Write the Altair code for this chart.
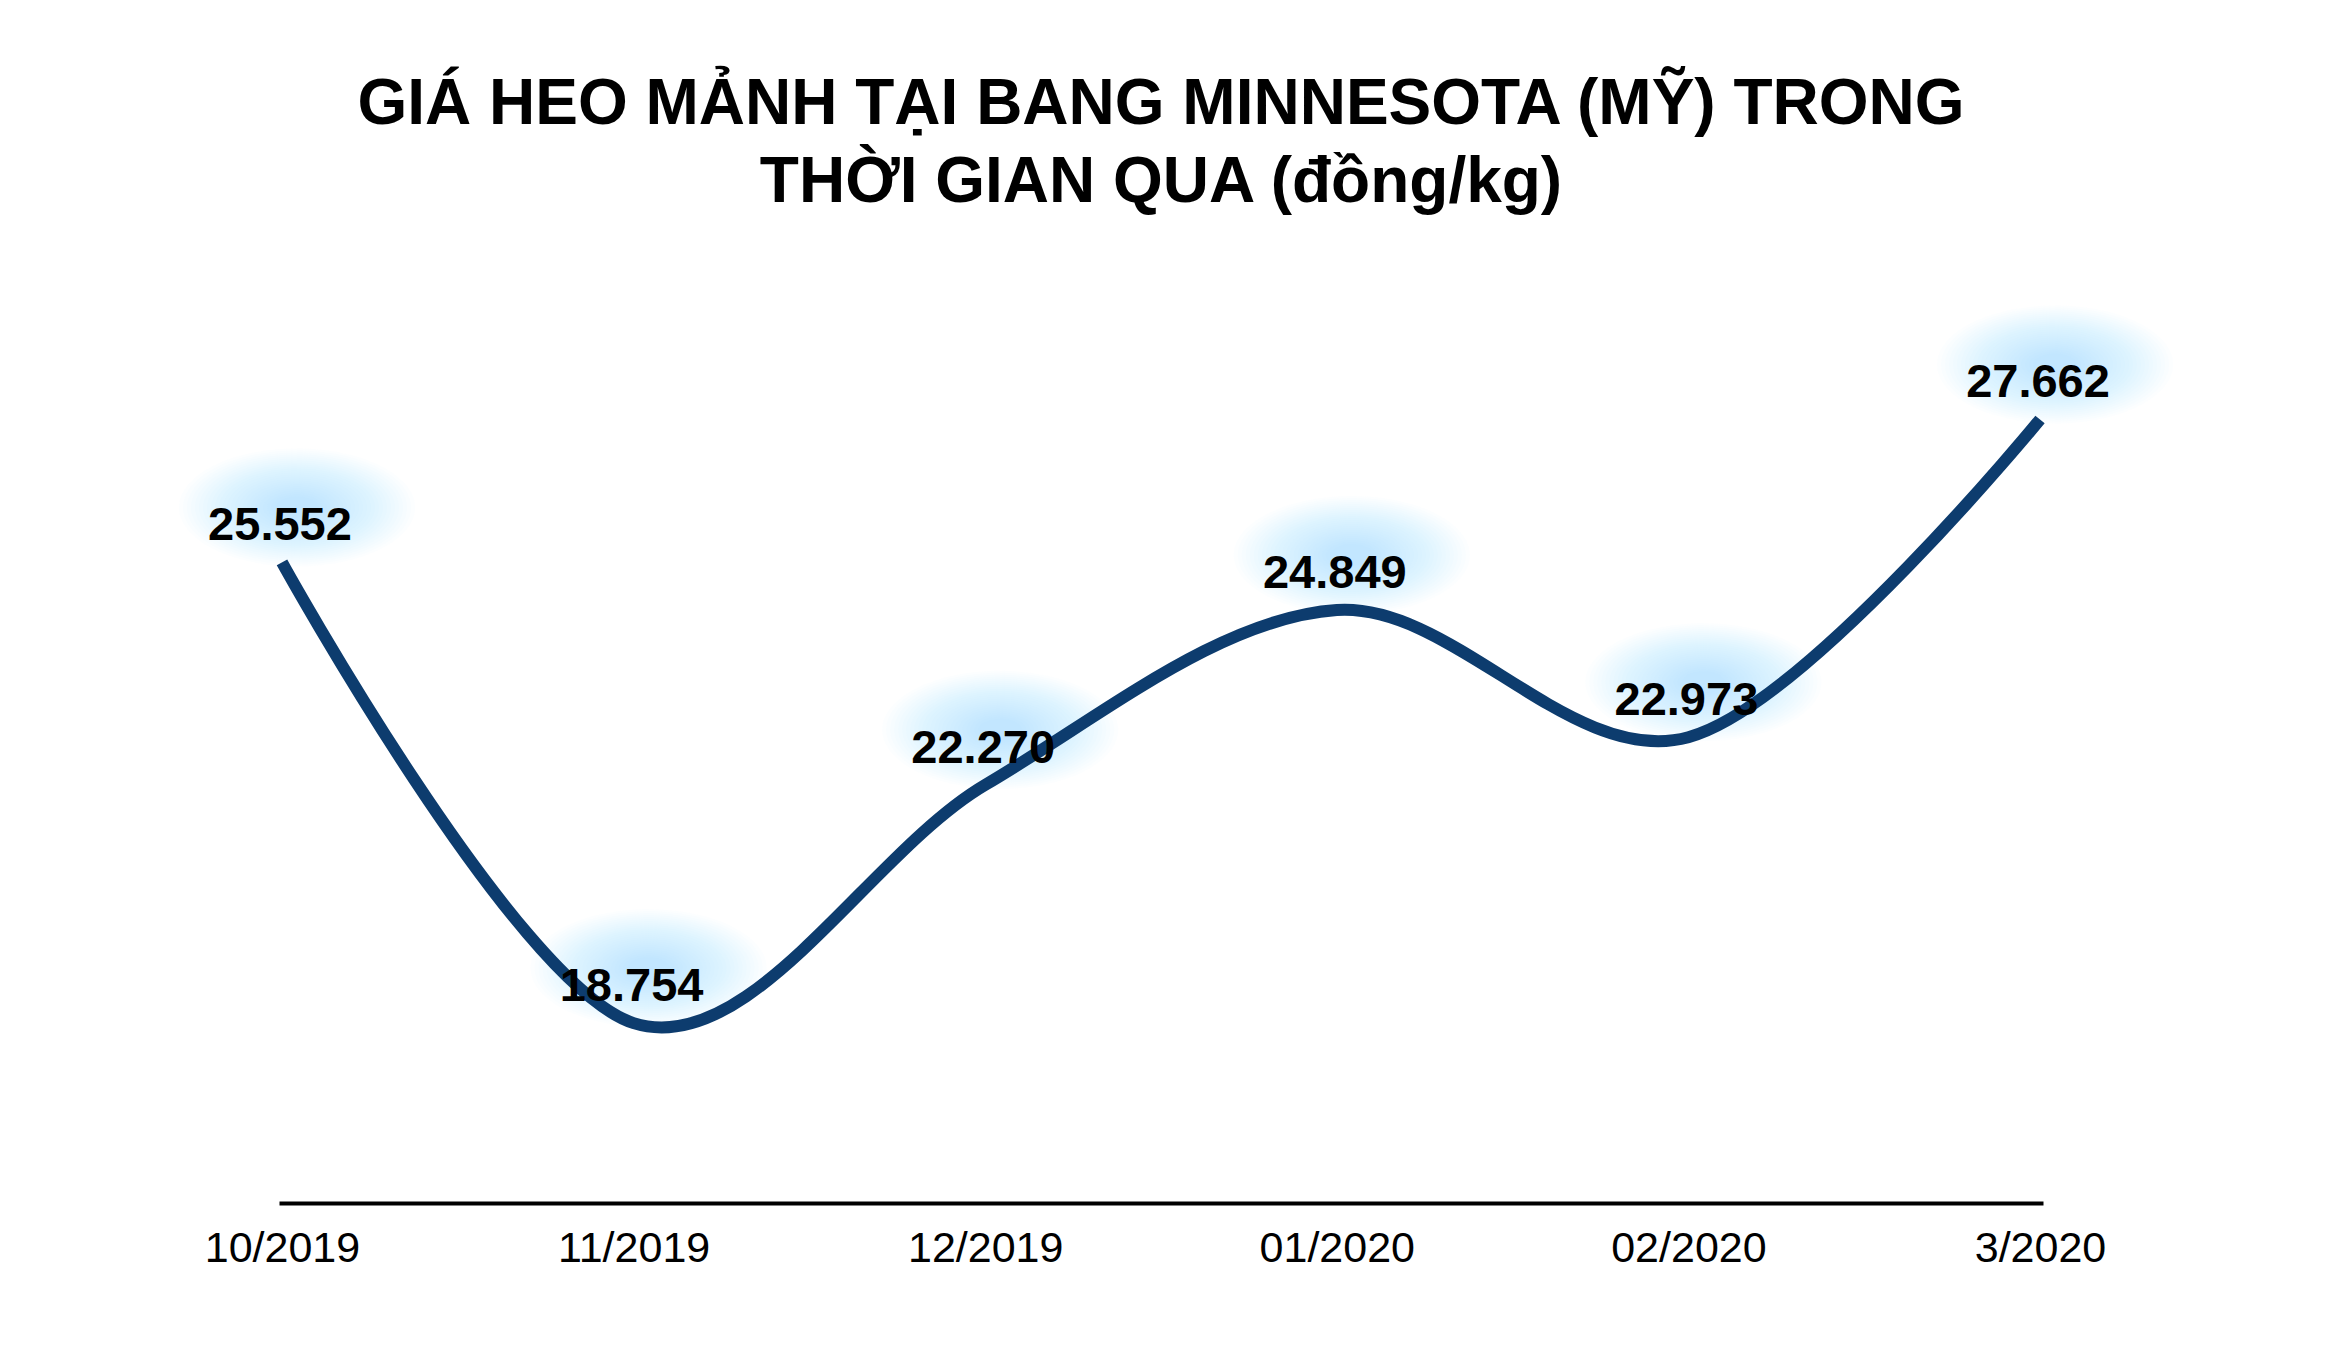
import pandas as pd
import altair as alt

# Data
months = ['10/2019', '11/2019', '12/2019', '01/2020', '02/2020', '3/2020']
prices = [25552, 18754, 22270, 24849, 22973, 27662]
labels = [f'{p:,}'.replace(',', '.') for p in prices]

data = pd.DataFrame({'month': months, 'price': prices, 'label': labels})

FONT = 'Liberation Sans'

x = alt.X('month:N', sort=months, title=None,
          scale=alt.Scale(type='point', padding=0.0085),
          axis=alt.Axis(domainColor='black', domainWidth=4, ticks=False,
                        labelFont=FONT, labelFontSize=43, labelColor='black',
                        labelPadding=24, labelAngle=0, grid=False))
y = alt.Y('price:Q', title=None, scale=alt.Scale(domain=[16100, 30000]), axis=None)

base = alt.Chart(data).encode(x=x, y=y)


# soft blue glow behind the labels: stacked translucent ellipses
def ellipse(hw, ox=15, oy=-55):
    cx, cy = ox / hw, oy / hw
    return (f'M{cx - 1},{cy}A1,0.5,0,1,0,{cx + 1},{cy}'
            f'A1,0.5,0,1,0,{cx - 1},{cy}Z')


glow = [
    base.mark_point(shape=ellipse(hw), size=(2 * hw) ** 2, filled=True,
                    color='#a3d2ff', opacity=0.032, strokeWidth=0)
    for hw in range(118, 20, -4)
]

line = base.mark_line(interpolate='cardinal', color='#0d3c6e', strokeWidth=12)

text = base.mark_text(font=FONT, fontSize=47, fontWeight='bold', color='black',
                      baseline='middle', dy=-36, dx=-2).encode(text='label:N')

chart = alt.layer(*glow, line, text).properties(
    width=1764,
    height=942,
    autosize=alt.AutoSizeParams(type='none'),
    padding={'left': 271, 'top': 253, 'right': 283, 'bottom': 149},
    title=alt.TitleParams(
        text=['GIÁ HEO MẢNH TẠI BANG MINNESOTA (MỸ) TRONG', 'THỜI GIAN QUA (đồng/kg)'],
        font=FONT, fontSize=64, fontWeight='bold', color='black',
        lineHeight=78, anchor='middle', offset=46),
).configure_view(stroke=None)

chart.save('out.html', embed_options={'renderer': 'svg', 'actions': False})
